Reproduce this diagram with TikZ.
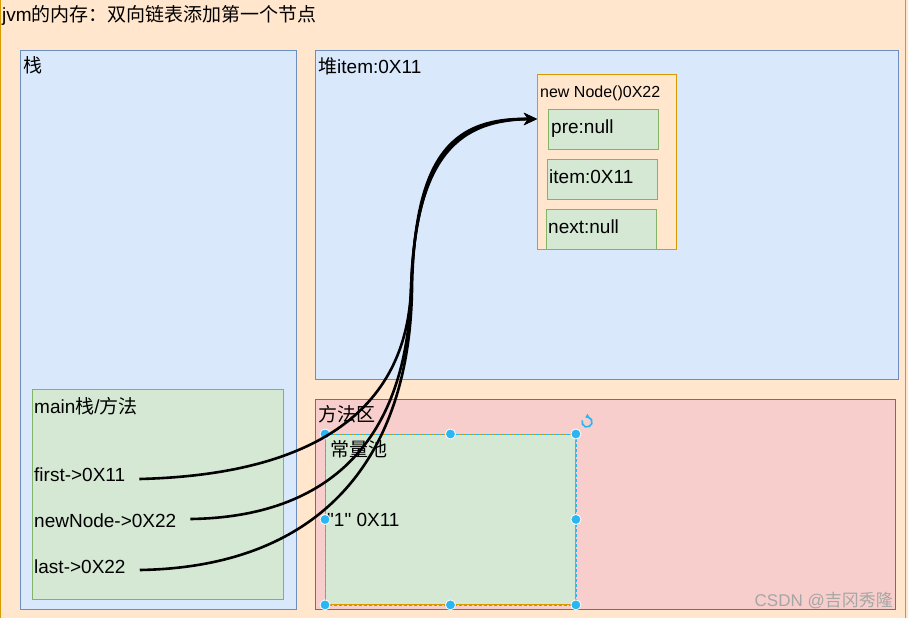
\documentclass[tikz,border=0pt]{standalone}
\usepackage{fontspec}
\setmainfont{Liberation Sans}
\newfontfamily\cjk{Noto Sans CJK SC}
\usetikzlibrary{arrows.meta}
\definecolor{bgorange}{HTML}{FFE6CC}
\definecolor{orangeline}{HTML}{D79B00}
\definecolor{bluefill}{HTML}{DAE8FC}
\definecolor{blueline}{HTML}{6C8EBF}
\definecolor{greenfill}{HTML}{D5E8D4}
\definecolor{greenline}{HTML}{82B366}
\definecolor{redfill}{HTML}{F8CECC}
\definecolor{redline}{HTML}{B85450}
\definecolor{handlecol}{HTML}{29B6F2}
\newcommand\zh[1]{{\cjk #1}}
\begin{document}
\begin{tikzpicture}[x=1pt,y=-1pt,
  area/.style={anchor=north west, inner sep=0, line width=0.9pt},
  bluearea/.style={area, fill=bluefill, draw=blueline},
  greenarea/.style={area, fill=greenfill, draw=greenline},
  redarea/.style={area, fill=redfill, draw=redline},
  orangearea/.style={area, fill=bgorange, draw=orangeline},
  lbl/.style={anchor=base west, inner sep=0, font=\fontsize{19}{22}\selectfont},
  smalllbl/.style={anchor=base west, inner sep=0, font=\fontsize{16}{19}\selectfont},
  conn/.style={line width=2.6pt, -{Stealth[length=13pt,width=12pt,inset=4pt]}},
  handle/.style={circle, fill=handlecol, draw=white, line width=0.8pt, minimum size=10pt, inner sep=0},
]
\useasboundingbox (0,0) rectangle (908,618);
\fill[bgorange] (0,0) rectangle (908,618);
\draw[orangeline, line width=1.2pt] (0.6,0) -- (0.6,618);
\draw[orangeline, line width=1.2pt] (905.5,0) -- (905.5,618);

\node[lbl] (title) at (2,22) {jvm\zh{的内存：双向链表添加第一个节点}};

% stack
\node[bluearea, minimum width=276, minimum height=559] (stack) at (20,50) {};
\node[lbl] (stacklbl) at (23,73) {\zh{栈}};
\node[greenarea, minimum width=251, minimum height=210] (mainbox) at (32,389) {};
\node[lbl] (mainlbl) at (34,413) {main\zh{栈}/\zh{方法}};
\node[lbl] (first) at (34,481) {first->0X11};
\node[lbl] (newnode) at (34,527) {newNode->0X22};
\node[lbl] (last) at (34,573) {last->0X22};

% heap
\node[bluearea, minimum width=583, minimum height=329] (heap) at (315,50) {};
\node[lbl] (heaplbl) at (318,74) {\zh{堆}item:0X11};
\node[orangearea, minimum width=139, minimum height=175] (nodebox) at (537,74) {};
\node[smalllbl] (nodelbl) at (540,98) {new Node()0X22};
\node[greenarea, minimum width=110, minimum height=40] (pre) at (548,109) {};
\node[lbl] (prelbl) at (551,133) {pre:null};
\node[greenarea, minimum width=110, minimum height=40] (item) at (547,159) {};
\node[lbl] (itemlbl) at (549,183) {item:0X11};
\begin{scope}
\clip (537,74) rectangle (676,249);
\node[greenarea, minimum width=110, minimum height=42] (next) at (546,209) {};
\end{scope}
\node[lbl] (nextlbl) at (548,233) {next:null};
\draw[orangeline, line width=0.9pt] (nodebox.north west) rectangle (nodebox.south east);

% method area
\node[redarea, minimum width=580, minimum height=210] (method) at (315,399) {};
\node[lbl] (methodlbl) at (318,421) {\zh{方法区}};
\node[greenarea, draw=orangeline, minimum width=250, minimum height=170] (pool) at (325,434) {};
\draw[handlecol, line width=0.8pt, dash pattern=on 3pt off 2pt] (pool.north west) rectangle (pool.south east);
\node[lbl] (poollbl) at (330,456) {\zh{常量池}};
\node[lbl] (onelbl) at (327,526) {\textquotedbl 1\textquotedbl{} 0X11};
\foreach \a in {north west, north, north east, west, east, south west, south, south east}
  \node[handle] at (pool.\a) {};
\coordinate (rot) at (587,422);
\draw[handlecol, line width=1.7pt, -{Triangle[length=3.5pt,width=5pt]}] ([shift={(200:5)}]rot) arc (200:-110:5);

% watermark
\node[anchor=base east, inner sep=0, text=black!35, font=\fontsize{17}{20}\selectfont] (mark) at (893,606) {CSDN @\zh{吉冈秀隆}};

% connectors
\draw[conn] ([shift={(14,-2)}]first.base east) .. controls (300,475) and (405,420) .. (411,290)
  .. controls (416,150) and (460,119) .. ([yshift=-45pt]nodebox.north west);
\draw[conn] ([shift={(14,-8)}]newnode.base east) .. controls (330,517) and (407,440) .. (411,290)
  .. controls (415,152) and (462,120) .. ([yshift=-45pt]nodebox.north west);
\draw[conn] ([shift={(14,-3)}]last.base east) .. controls (320,567) and (409,460) .. (412,290)
  .. controls (414,148) and (458,118) .. ([yshift=-45pt]nodebox.north west);
\end{tikzpicture}
\end{document}
